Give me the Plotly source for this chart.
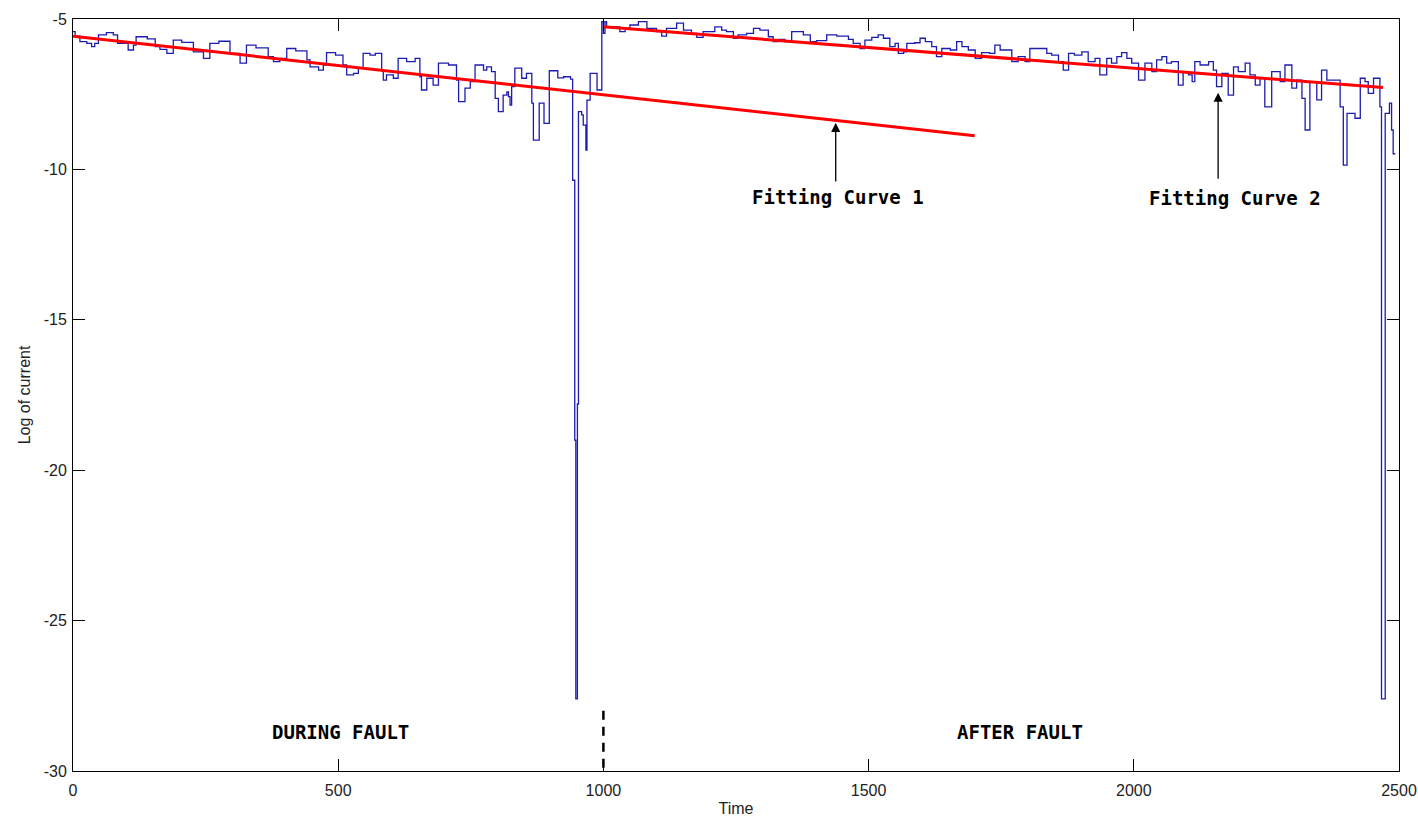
import plotly.graph_objects as go

# Measured log-current signal (sample-and-hold breakpoints)
time = [
    0, 4, 13, 26, 35, 41, 48, 63, 76, 84, 104, 114, 119, 140, 155, 164, 177, 189,
    205, 227, 246, 258, 275, 296, 315, 327, 345, 368, 378, 390, 403, 420, 441, 447,
    463, 472, 478, 495, 503, 509, 516, 529, 538, 547, 560, 570, 582, 585, 591, 604,
    613, 629, 645, 654, 657, 667, 679, 689, 708, 723, 727, 739, 749, 758, 774, 780,
    789, 796, 802, 811, 818, 821, 824, 827, 833, 846, 855, 865, 868, 879, 888, 898,
    914, 925, 938, 942, 946, 948, 951, 953, 959, 962, 967, 969, 975, 988, 997, 1000,
    1003, 1006, 1031, 1041, 1050, 1066, 1082, 1100, 1110, 1119, 1138, 1151, 1166,
    1176, 1188, 1210, 1223, 1232, 1245, 1254, 1270, 1283, 1295, 1311, 1320, 1330,
    1342, 1355, 1377, 1390, 1402, 1421, 1440, 1462, 1471, 1484, 1493, 1506, 1518,
    1528, 1540, 1550, 1556, 1566, 1572, 1587, 1597, 1607, 1619, 1628, 1638, 1654,
    1666, 1676, 1688, 1701, 1713, 1728, 1738, 1748, 1770, 1782, 1795, 1804, 1836,
    1845, 1858, 1867, 1877, 1888, 1902, 1914, 1927, 1936, 1949, 1958, 1968, 1977,
    1987, 1996, 2009, 2021, 2034, 2043, 2053, 2062, 2071, 2084, 2093, 2103, 2110,
    2115, 2125, 2141, 2150, 2156, 2166, 2178, 2188, 2197, 2210, 2219, 2229, 2238,
    2247, 2260, 2276, 2285, 2298, 2307, 2317, 2323, 2332, 2345, 2354, 2364, 2389,
    2395, 2402, 2417, 2427, 2436, 2442, 2452, 2464, 2467, 2474, 2482, 2486, 2489,
    2493,
]
log_current = [
    -5.42, -5.57, -5.75, -5.81, -5.92, -5.81, -5.53, -5.45, -5.53, -5.81, -6.03, -5.87,
    -5.59, -5.66, -5.92, -6.01, -6.14, -5.70, -5.78, -6.09, -6.31, -5.81, -5.74, -6.14,
    -6.47, -5.87, -5.96, -6.25, -6.42, -6.31, -5.98, -6.06, -6.36, -6.59, -6.70, -6.53,
    -6.12, -6.20, -6.20, -6.53, -6.86, -6.81, -6.64, -6.14, -6.20, -6.14, -6.70, -7.03,
    -6.86, -6.97, -6.31, -6.42, -6.31, -6.92, -7.36, -6.97, -7.20, -6.47, -6.53, -7.03,
    -7.75, -7.30, -7.08, -6.53, -6.70, -6.59, -6.75, -7.64, -8.08, -7.53, -7.42, -7.58,
    -7.86, -7.25, -6.63, -6.97, -6.81, -7.80, -9.03, -7.80, -8.47, -6.72, -6.96, -6.92,
    -7.00, -10.36, -19.0, -27.6, -17.8, -8.08, -8.19, -8.53, -9.36, -7.70, -6.81, -7.36,
    -5.09, -5.48, -5.09, -5.26, -5.42, -5.31, -5.20, -5.09, -5.31, -5.42, -5.57, -5.31,
    -5.14, -5.37, -5.48, -5.61, -5.42, -5.26, -5.37, -5.42, -5.64, -5.53, -5.48, -5.31,
    -5.37, -5.59, -5.75, -5.68, -5.75, -5.42, -5.53, -5.75, -5.72, -5.53, -5.57, -5.68,
    -5.81, -5.98, -5.70, -5.61, -5.53, -5.64, -5.92, -5.81, -6.14, -6.09, -5.81, -5.79,
    -5.64, -5.75, -5.92, -6.25, -5.98, -6.03, -5.75, -5.92, -6.03, -6.31, -6.12, -6.14,
    -5.87, -6.03, -6.42, -6.25, -6.42, -5.98, -6.14, -6.20, -6.42, -6.70, -6.14, -6.20,
    -6.09, -6.42, -6.31, -6.86, -6.31, -6.47, -6.25, -6.12, -6.31, -6.47, -7.03, -6.47,
    -6.75, -6.36, -6.25, -6.47, -6.42, -7.20, -6.75, -6.86, -7.08, -6.42, -6.53, -6.42,
    -6.70, -7.25, -6.81, -7.53, -6.59, -6.75, -6.47, -6.86, -7.20, -6.97, -7.92, -6.75,
    -7.08, -6.53, -7.30, -7.03, -7.64, -8.69, -7.08, -7.69, -6.70, -7.03, -7.92, -9.86,
    -8.14, -8.30, -6.97, -7.08, -7.47, -6.97, -7.92, -27.6, -8.14, -7.80, -8.69, -9.48,
    -9.48,
]

# Linear fits before and after the fault
fit1_time = [0, 1700]
fit1_value = [-5.57, -8.88]
fit2_time = [1000, 2470]
fit2_value = [-5.26, -7.28]

fault_time = 1000
x_ticks = [0, 500, 1000, 1500, 2000, 2500]
y_ticks = [-30, -25, -20, -15, -10, -5]

fig = go.Figure()
fig.add_trace(go.Scatter(x=time, y=log_current, mode="lines", line_shape="hv",
                         line=dict(color="#1c1cb0", width=1.3), showlegend=False))
fig.add_trace(go.Scatter(x=fit1_time, y=fit1_value, mode="lines",
                         line=dict(color="#ff0000", width=3), showlegend=False))
fig.add_trace(go.Scatter(x=fit2_time, y=fit2_value, mode="lines",
                         line=dict(color="#ff0000", width=3), showlegend=False))
# fault instant marker
fig.add_trace(go.Scatter(x=[fault_time, fault_time], y=[-28.0, -30], mode="lines",
                         line=dict(color="black", width=2.5, dash="9px,7px"), showlegend=False))

label_font = dict(family="DejaVu Sans Mono", size=19, color="black")

def arrow(x_tip, y_tip, y_tail):
    fig.add_annotation(x=x_tip, y=y_tip, ax=x_tip, ay=y_tail, xref="x", yref="y",
                       axref="x", ayref="y", text="", showarrow=True, arrowhead=2,
                       arrowsize=1.4, arrowwidth=1.3, arrowcolor="black")

arrow(1438, -8.45, -10.45)
arrow(2159, -7.45, -10.36)
fig.add_annotation(x=1442, y=-10.92, text="<b>Fitting Curve 1</b>", showarrow=False, font=label_font)
fig.add_annotation(x=2191, y=-10.95, text="<b>Fitting Curve 2</b>", showarrow=False, font=label_font)
fig.add_annotation(x=505, y=-28.69, text="<b>DURING FAULT</b>", showarrow=False, font=label_font)
fig.add_annotation(x=1785, y=-28.69, text="<b>AFTER FAULT</b>", showarrow=False, font=label_font)

text_font = dict(family="Liberation Sans", size=16, color="#222")
axis_common = dict(showline=True, linecolor="black", linewidth=1, mirror="ticks",
                   ticks="inside", ticklen=12, tickcolor="black", tickwidth=1,
                   showgrid=False, zeroline=False, tickfont=text_font, automargin=False)

fig.update_xaxes(range=[0, 2500], tickvals=x_ticks, ticktext=[str(v) for v in x_ticks],
                 title=dict(text="Time", font=text_font, standoff=4),
                 ticklabelstandoff=5, **axis_common)
fig.update_yaxes(range=[-30, -5], tickvals=y_ticks, ticktext=[str(v) for v in y_ticks],
                 title=dict(text="Log of current", font=text_font, standoff=9),
                 ticklabelstandoff=2, **axis_common)

fig.update_layout(width=1418, height=819, margin=dict(l=73, r=19, t=19, b=48),
                  plot_bgcolor="white", paper_bgcolor="white")

fig.write_html("out.html")
